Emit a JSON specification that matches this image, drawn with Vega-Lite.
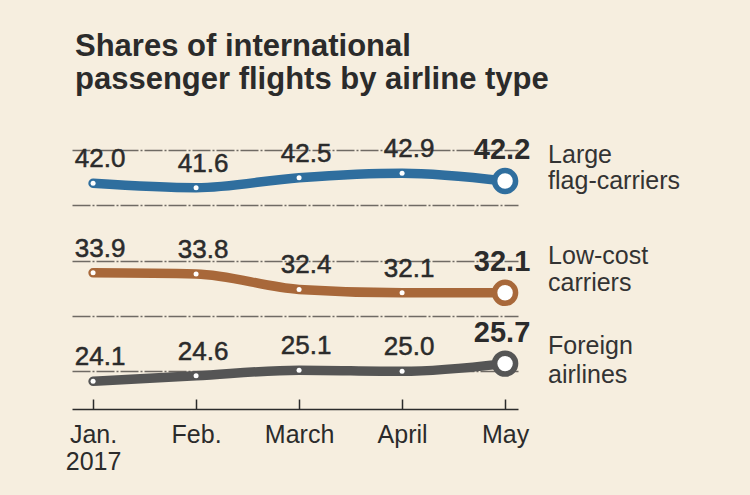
{
  "$schema": "https://vega.github.io/schema/vega-lite/v6.json",
  "width": 446,
  "height": 259,
  "autosize": {"type": "none"},
  "padding": {"left": 72, "top": 150, "right": 232, "bottom": 86},
  "background": "#f6eedf",
  "title": {
    "text": ["Shares of international", "passenger flights by airline type"],
    "anchor": "start",
    "frame": "group",
    "font": "Liberation Sans",
    "fontSize": 31,
    "fontWeight": "bold",
    "color": "#2b2b2b",
    "lineHeight": 33,
    "dx": 3,
    "offset": 40
  },
  "config": {
    "view": {"stroke": null},
    "font": "Liberation Sans"
  },
  "data": {
    "values": [
      {"month": "Jan.", "series": "Large flag-carriers", "value": 42.0},
      {"month": "Feb.", "series": "Large flag-carriers", "value": 41.6},
      {"month": "March", "series": "Large flag-carriers", "value": 42.5},
      {"month": "April", "series": "Large flag-carriers", "value": 42.9},
      {"month": "May", "series": "Large flag-carriers", "value": 42.2},
      {"month": "Jan.", "series": "Low-cost carriers", "value": 33.9},
      {"month": "Feb.", "series": "Low-cost carriers", "value": 33.8},
      {"month": "March", "series": "Low-cost carriers", "value": 32.4},
      {"month": "April", "series": "Low-cost carriers", "value": 32.1},
      {"month": "May", "series": "Low-cost carriers", "value": 32.1},
      {"month": "Jan.", "series": "Foreign airlines", "value": 24.1},
      {"month": "Feb.", "series": "Foreign airlines", "value": 24.6},
      {"month": "March", "series": "Foreign airlines", "value": 25.1},
      {"month": "April", "series": "Foreign airlines", "value": 25.0},
      {"month": "May", "series": "Foreign airlines", "value": 25.7}
    ]
  },
  "encoding": {
    "x": {
      "field": "month",
      "type": "ordinal",
      "sort": ["Jan.", "Feb.", "March", "April", "May"],
      "scale": {"type": "point", "padding": 0.165, "align": 0.62},
      "axis": {
        "title": null,
        "labelAngle": 0,
        "labelFont": "Liberation Sans",
        "labelFontSize": 25,
        "labelColor": "#2b2b2b",
        "labelLineHeight": 27,
        "labelPadding": 23,
        "labelExpr": "datum.value == 'Jan.' ? ['Jan.', '2017'] : datum.value",
        "domainColor": "#2b2b2b",
        "domainWidth": 1.5,
        "tickColor": "#2b2b2b",
        "tickWidth": 1.5,
        "tickSize": -10,
        "grid": false
      }
    },
    "y": {
      "field": "value",
      "type": "quantitative",
      "scale": {"domain": [21.6, 45], "nice": false, "zero": false},
      "axis": {
        "title": null,
        "labels": false,
        "ticks": false,
        "domain": false,
        "grid": true,
        "values": [25, 30, 35, 40, 45],
        "gridColor": "#6f6a64",
        "gridWidth": 1.3,
        "gridDash": [18, 2, 2, 2]
      }
    },
    "color": {
      "field": "series",
      "type": "nominal",
      "scale": {
        "domain": ["Large flag-carriers", "Low-cost carriers", "Foreign airlines"],
        "range": ["#2f6e9e", "#a8683a", "#555555"]
      },
      "legend": null
    }
  },
  "layer": [
    {
      "mark": {"type": "line", "strokeWidth": 9.5, "interpolate": "monotone", "strokeCap": "round"}
    },
    {
      "mark": {"type": "point", "filled": true, "size": 25, "opacity": 1},
      "encoding": {"color": {"value": "#ffffff"}}
    },
    {
      "transform": [{"filter": "datum.month == 'May'"}],
      "mark": {"type": "point", "filled": false, "fill": "#ffffff", "fillOpacity": 1, "size": 440, "strokeWidth": 5.5, "opacity": 1}
    },
    {
      "transform": [{"filter": "datum.month != 'May'"}],
      "mark": {"type": "text", "dx": 7, "dy": -16, "baseline": "alphabetic", "fontSize": 26, "font": "Liberation Sans", "stroke": "#2b2b2b", "strokeWidth": 0.5},
      "encoding": {"text": {"field": "value", "type": "quantitative", "format": ".1f"}, "color": {"value": "#2b2b2b"}}
    },
    {
      "transform": [{"filter": "datum.month == 'May'"}],
      "mark": {"type": "text", "dx": -3, "dy": -22, "baseline": "alphabetic", "fontSize": 29, "fontWeight": "bold", "font": "Liberation Sans"},
      "encoding": {"text": {"field": "value", "type": "quantitative", "format": ".1f"}, "color": {"value": "#2b2b2b"}}
    },
    {
      "transform": [{"filter": "datum.month == 'May' && datum.series == 'Large flag-carriers'"}],
      "mark": {"type": "text", "align": "left", "dx": 43, "dy": -18, "baseline": "alphabetic", "fontSize": 25, "lineHeight": 26, "font": "Liberation Sans", "text": ["Large", "flag-carriers"]},
      "encoding": {"color": {"value": "#333333"}}
    },
    {
      "transform": [{"filter": "datum.month == 'May' && datum.series == 'Low-cost carriers'"}],
      "mark": {"type": "text", "align": "left", "dx": 43, "dy": -29, "baseline": "alphabetic", "fontSize": 25, "lineHeight": 27, "font": "Liberation Sans", "text": ["Low-cost", "carriers"]},
      "encoding": {"color": {"value": "#333333"}}
    },
    {
      "transform": [{"filter": "datum.month == 'May' && datum.series == 'Foreign airlines'"}],
      "mark": {"type": "text", "align": "left", "dx": 43, "dy": -10, "baseline": "alphabetic", "fontSize": 25, "lineHeight": 29, "font": "Liberation Sans", "text": ["Foreign", "airlines"]},
      "encoding": {"color": {"value": "#333333"}}
    }
  ]
}
